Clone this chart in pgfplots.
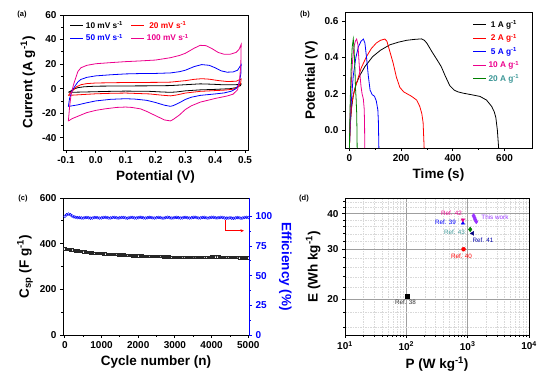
\documentclass[border=0pt]{standalone}
\usepackage{pgfplots}
\pgfplotsset{compat=1.18}
\usepackage{fontspec}
\setmainfont{Liberation Sans}
\usetikzlibrary{arrows.meta}
\definecolor{mygreen}{RGB}{0,128,0}
\definecolor{myteal}{RGB}{60,150,150}
\definecolor{mynavy}{RGB}{0,0,128}
\definecolor{purp}{RGB}{153,51,255}
\pgfplotsset{
  orig/.style={
    scale only axis,
    axis line style={line width=1pt},
    every tick/.style={black, line width=0.8pt},
    tick align=outside,
    major tick length=3pt,
    minor tick length=1.8pt,
    xtick pos=left, ytick pos=left,
    /pgf/number format/assume math mode=true,
    /pgf/number format/1000 sep={},
    scaled ticks=false,
    tick label style={font=\fontsize{10}{11}\selectfont\bfseries},
    label style={font=\fontsize{13.5}{14}\selectfont\bfseries},
    legend style={draw=none, fill=none, font=\fontsize{8.3}{9}\selectfont\bfseries},
    legend image code/.code={\draw[#1, line width=1pt] (0pt,0pt) -- (13pt,0pt);},
  }
}
\begin{document}
\begin{tikzpicture}[x=1pt,y=1pt]
\path[use as bounding box] (0,0) rectangle (554,376);
\node[font=\fontsize{7.5}{8}\selectfont\bfseries] at (22,361) {(a)};
\node[font=\fontsize{7.5}{8}\selectfont\bfseries] at (305,361) {(b)};
\node[font=\fontsize{7.5}{8}\selectfont\bfseries] at (23,177) {(c)};
\node[font=\fontsize{7.5}{8}\selectfont\bfseries] at (304,177) {(d)};
% ---------------- (a)
\begin{axis}[orig, at={(63pt,226pt)}, anchor=south west, width=185pt, height=135pt,
  xmin=-0.11, xmax=0.51, ymin=-50, ymax=60,
  xtick={-0.1,0,0.1,0.2,0.3,0.4,0.5}, ytick={-40,-20,0,20,40,60},
  minor x tick num=1, minor y tick num=1,
  xticklabel style={/pgf/number format/.cd, fixed, fixed zerofill, precision=1},
  xlabel={Potential (V)}, ylabel={Current (A g\textsuperscript{-1})},
  legend columns=2, legend style={at={(0.02,0.985)}, anchor=north west, row sep=0.5pt, /tikz/every even column/.append style={column sep=6pt}},
  every axis plot/.append style={line width=0.8pt}]
\addplot[black] coordinates {(-0.092,-3) (-0.085,-2) (-0.075,-0.5) (-0.06,0.8) (-0.04,1.5) (0,2) (0.1,2.2) (0.2,2.3) (0.25,2.5) (0.3,3.2) (0.35,3.9) (0.39,3.6) (0.43,3.1) (0.47,3.2) (0.487,3.8) (0.485,2.5) (0.47,0.8) (0.45,0) (0.4,-0.6) (0.35,-1) (0.3,-1.8) (0.27,-2.7) (0.25,-3) (0.22,-2.7) (0.18,-2.2) (0.1,-2) (0.05,-2.2) (0,-2.5) (-0.05,-2.8) (-0.092,-3)};
\addlegendentry{10 mV s\textsuperscript{-1}}
\addplot[red] coordinates {(-0.092,-5.5) (-0.085,-3.5) (-0.075,-1) (-0.065,1.5) (-0.05,3.2) (-0.03,4.1) (0,4.6) (0.1,5) (0.2,5.1) (0.25,5.3) (0.3,6.5) (0.33,7.6) (0.355,8.1) (0.38,7.7) (0.41,6.6) (0.44,5.8) (0.47,6) (0.487,7.9) (0.485,4) (0.475,1) (0.46,-0.5) (0.43,-1.2) (0.4,-1.6) (0.35,-2.2) (0.3,-3.6) (0.27,-5.2) (0.25,-5.9) (0.22,-5.3) (0.18,-4.3) (0.1,-3.6) (0.05,-3.8) (0,-4.2) (-0.05,-4.9) (-0.092,-5.5)};
\addlegendentry{\textcolor{red}{20 mV s\textsuperscript{-1}}}
\addplot[blue] coordinates {(-0.092,-14.5) (-0.088,-8) (-0.08,-2) (-0.07,2) (-0.06,5.5) (-0.05,7.5) (-0.03,9.2) (0,10.4) (0.05,11.3) (0.1,12) (0.15,12.3) (0.2,12.4) (0.25,12.8) (0.28,13.8) (0.3,15) (0.33,18) (0.355,19.6) (0.38,19) (0.4,17) (0.42,14.5) (0.44,13.4) (0.46,13.6) (0.475,15) (0.487,19.5) (0.486,12) (0.48,4) (0.47,0) (0.455,-2) (0.43,-3.5) (0.4,-4.3) (0.35,-5.5) (0.32,-7) (0.3,-8.8) (0.28,-11.5) (0.26,-13.8) (0.25,-14.4) (0.23,-13.5) (0.2,-11.3) (0.17,-9.5) (0.13,-8.5) (0.1,-8.2) (0.05,-8.7) (0,-10) (-0.03,-11.5) (-0.06,-13.2) (-0.092,-14.5)};
\addlegendentry{\textcolor{blue}{50 mV s\textsuperscript{-1}}}
\addplot[magenta] coordinates {(-0.092,-26.4) (-0.088,-15) (-0.083,-5) (-0.075,3) (-0.067,9) (-0.06,14) (-0.05,17) (-0.03,19) (0,20.3) (0.05,21.2) (0.1,22) (0.15,22.6) (0.2,23.3) (0.25,25.2) (0.28,27) (0.3,28.8) (0.33,33) (0.35,35.3) (0.37,35) (0.39,32.5) (0.41,29.5) (0.43,28) (0.45,28) (0.47,29.5) (0.48,32) (0.487,36) (0.486,20) (0.482,8) (0.475,-1) (0.46,-4.5) (0.44,-6) (0.4,-8) (0.35,-11) (0.32,-14) (0.3,-17) (0.28,-21.5) (0.26,-25) (0.25,-26.3) (0.23,-25.5) (0.2,-22) (0.17,-18.5) (0.15,-16.5) (0.12,-15.3) (0.1,-15) (0.07,-15.3) (0.03,-16.5) (0,-17.7) (-0.03,-19.5) (-0.06,-22.5) (-0.08,-24.5) (-0.092,-26.4)};
\addlegendentry{\textcolor{magenta}{100 mV s\textsuperscript{-1}}}
\end{axis}
% ---------------- (b)
\begin{axis}[orig, at={(345pt,228pt)}, anchor=south west, width=187pt, height=135pt,
  xmin=-17, xmax=706, ymin=-0.1, ymax=0.646,
  xtick={0,200,400,600}, ytick={0,0.2,0.4,0.6},
  minor x tick num=1, minor y tick num=1,
  yticklabel style={/pgf/number format/.cd, fixed, fixed zerofill, precision=1},
  xlabel={Time (s)}, ylabel={Potential (V)},
  legend style={at={(0.665,0.975)}, anchor=north west, row sep=1.2pt},
  every axis plot/.append style={line width=0.8pt}]
\addplot[black] coordinates {(0,-0.1) (3,0.02) (8,0.12) (15,0.19) (25,0.25) (40,0.3) (60,0.35) (90,0.405) (120,0.44) (156,0.47) (190,0.485) (221,0.495) (250,0.5) (279,0.503) (290,0.495) (300,0.478) (320,0.43) (340,0.385) (355,0.35) (370,0.3) (388,0.245) (405,0.22) (420,0.21) (440,0.203) (470,0.195) (505,0.185) (530,0.165) (550,0.13) (560,0.1) (566,0.07) (572,0) (577,-0.1)};
\addlegendentry{1 A g\textsuperscript{-1}}
\addplot[red] coordinates {(0,-0.1) (4,0.05) (10,0.15) (18,0.21) (27,0.255) (45,0.34) (66,0.405) (85,0.45) (104,0.48) (120,0.495) (137,0.502) (145,0.49) (155,0.44) (169,0.37) (182,0.29) (195,0.235) (210,0.21) (240,0.186) (260,0.165) (272,0.13) (280,0.09) (285,0.04) (289,-0.1)};
\addlegendentry{\textcolor{red}{2 A g\textsuperscript{-1}}}
\addplot[blue] coordinates {(0,-0.1) (3,0.05) (8,0.17) (15,0.3) (25,0.4) (35,0.46) (45,0.49) (54,0.502) (60,0.48) (67,0.39) (73,0.3) (80,0.22) (88,0.195) (97,0.186) (104,0.16) (110,0.11) (112,0.05) (114,-0.1)};
\addlegendentry{\textcolor{blue}{5 A g\textsuperscript{-1}}}
\addplot[magenta] coordinates {(0,-0.1) (3,0.1) (7,0.25) (12,0.38) (18,0.46) (23,0.49) (28,0.502) (33,0.47) (38,0.36) (41,0.3) (45,0.24) (49,0.2) (54,0.17) (57,0.12) (58.5,0.05) (59.5,-0.1)};
\addlegendentry{\textcolor{magenta}{10 A g\textsuperscript{-1}}}
\addplot[mygreen] coordinates {(0,-0.1) (3,0.15) (7,0.35) (11,0.46) (15,0.502) (18,0.45) (21,0.35) (24,0.22) (26,0.17) (28,0.1) (29,0.02) (30,-0.1)};
\addlegendentry{\textcolor{myteal}{20 A g\textsuperscript{-1}}}
\end{axis}
% ---------------- (c) left
\begin{axis}[orig, at={(63pt,41pt)}, anchor=south west, width=186pt, height=137pt,
  xmin=-50, xmax=5020, ymin=0, ymax=600,
  xtick={0,1000,2000,3000,4000,5000}, ytick={0,200,400,600},
  minor x tick num=1, minor y tick num=1,
  axis y line*=left,
  xlabel={Cycle number (n)}, ylabel={C\textsubscript{sp} (F g\textsuperscript{-1})}]
\addplot[black!85, line width=0.3pt, mark=square, mark size=1.2pt, mark options={line width=0.4pt}] coordinates {
(0,378) (50,377) (100,376) (150,374) (200,373) (250,371) (300,370) (350,369) (400,367) (450,366) (500,365)
(550,364) (600,363) (650,362) (700,361) (750,360) (800,359) (850,359) (900,358) (950,357) (1000,357)
(1050,356) (1100,356) (1150,355) (1200,355) (1250,354) (1300,354) (1350,353) (1400,353) (1450,352) (1500,352)
(1550,351) (1600,351) (1650,350) (1700,350) (1750,349) (1800,349) (1850,348) (1900,348) (1950,348) (2000,347)
(2050,347) (2100,347) (2150,346) (2200,346) (2250,346) (2300,345) (2350,345) (2400,345) (2450,345) (2500,344)
(2550,344) (2600,344) (2650,344) (2700,343) (2750,343) (2800,343) (2850,343) (2900,342) (2950,342) (3000,342)
(3050,342) (3100,341) (3150,341) (3200,341) (3250,341) (3300,340) (3350,340) (3400,340) (3450,340) (3500,340)
(3550,340) (3600,340) (3650,340) (3700,341) (3750,341) (3800,341) (3850,342) (3900,342) (3950,342) (4000,343)
(4050,343) (4100,343) (4150,343) (4200,343) (4250,342) (4300,342) (4350,341) (4400,341) (4450,341) (4500,340)
(4550,340) (4600,340) (4650,340) (4700,340) (4750,339) (4800,339) (4850,339) (4900,339) (4950,339) (5000,339)};
\end{axis}
% ---------------- (c) right
\begin{axis}[orig, at={(63pt,41pt)}, anchor=south west, width=186pt, height=137pt,
  xmin=-50, xmax=5020, ymin=0, ymax=115.5,
  axis x line=none, axis y line*=right, ytick pos=right,
  ytick={0,25,50,75,100}, minor y tick num=1,
  y axis line style={blue, line width=1pt},
  every y tick/.style={blue, line width=0.8pt},
  yticklabel style={blue},
  ylabel={Efficiency (\%)}, ylabel style={blue, rotate=180}]
\addplot[blue, line width=0.3pt, mark=o, mark size=1.4pt, mark options={line width=0.4pt}] coordinates {
(0,100.0) (50,101.4) (100,102.0) (150,101.4) (200,100.3) (250,99.6) (300,99.2) (350,98.9) (400,99.0) (450,98.7)
(500,98.6) (550,98.9) (600,99.1) (650,98.8) (700,98.5) (750,98.6) (800,99.0) (850,99.1) (900,98.8) (950,98.6)
(1000,98.7) (1050,99.1) (1100,99.2) (1150,98.9) (1200,98.6) (1250,98.7) (1300,99.1) (1350,99.2) (1400,98.9) (1450,98.6)
(1500,98.8) (1550,99.1) (1600,99.1) (1650,98.7) (1700,98.5) (1750,98.8) (1800,99.2) (1850,99.1) (1900,98.7) (1950,98.6)
(2000,98.9) (2050,99.3) (2100,99.1) (2150,98.7) (2200,98.6) (2250,98.9) (2300,99.2) (2350,99.0) (2400,98.7) (2450,98.6)
(2500,98.9) (2550,99.2) (2600,99.0) (2650,98.6) (2700,98.6) (2750,99.0) (2800,99.3) (2850,99.0) (2900,98.6) (2950,98.7)
(3000,99.0) (3050,99.2) (3100,98.9) (3150,98.6) (3200,98.7) (3250,99.1) (3300,99.2) (3350,98.8) (3400,98.6) (3450,98.8)
(3500,99.2) (3550,99.3) (3600,98.9) (3650,98.6) (3700,98.7) (3750,99.1) (3800,99.2) (3850,98.8) (3900,98.6) (3950,98.8)
(4000,99.2) (4050,99.2) (4100,98.9) (4150,98.7) (4200,98.9) (4250,99.3) (4300,99.1) (4350,98.7) (4400,98.5) (4450,98.6)
(4500,98.8) (4550,98.5) (4600,98.4) (4650,98.7) (4700,99.0) (4750,98.8) (4800,98.5) (4850,98.7) (4900,99.1) (4950,99.2) (5000,99.0)};
\draw[red, line width=0.6pt, -{Stealth[length=3.5pt,width=3pt]}] (axis cs:4364,97) |- (axis cs:4883,87.9);
\end{axis}
% ---------------- (d)
\begin{axis}[orig, at={(345pt,41pt)}, anchor=south west, width=184pt, height=136pt,
  xmode=log, ymode=log, xmin=10, xmax=10000, ymin=15, ymax=45,
  xtick={10,100,1000,10000},
  xticklabels={10\textsuperscript{1},10\textsuperscript{2},10\textsuperscript{3},10\textsuperscript{4}},
  minor xtick={20,30,40,50,60,70,80,90,200,300,400,500,600,700,800,900,2000,3000,4000,5000,6000,7000,8000,9000},
  ytick={20,30,40}, yticklabels={20,30,40},
  minor ytick={16,18,22,24,26,28,32,34,36,38,42,44},
  grid=both,
  major grid style={gray!75, line width=0.5pt},
  minor grid style={gray!30, dash pattern=on 1.5pt off 1pt, line width=0.3pt},
  xlabel={P (W kg\textsuperscript{-1})}, ylabel={E (Wh kg\textsuperscript{-1})}]
\addplot[only marks, mark=square*, mark size=1.8pt, black] coordinates {(104,20.5)};
\addplot[only marks, mark=*, mark size=2pt, red] coordinates {(857,30)};
\addplot[only marks, mark=diamond*, mark size=2.4pt, mygreen] coordinates {(1099,35.2)};
\addplot[only marks, mark=triangle*, mark size=2.2pt, mynavy, mark options={rotate=90}] coordinates {(1200,34.1)};
\addplot[only marks, mark=triangle*, mark size=2pt, blue] coordinates {(836,37.0)};
\addplot[only marks, mark=triangle*, mark size=2pt, magenta, mark options={rotate=180}] coordinates {(836,38.0)};
\addplot[only marks, mark=diamond*, mark size=2.2pt, purp] coordinates {(1250,39.3) (1290,38.7) (1330,38.1) (1380,37.5)};
\begin{scope}[font=\fontsize{6.3}{7}\selectfont]
\node[magenta] at (rel axis cs:0.579,0.897) {Ref. 42};
\node[blue] at (rel axis cs:0.546,0.831) {Ref. 39};
\node[myteal] at (rel axis cs:0.595,0.757) {Ref. 43};
\node[mynavy!70!blue] at (rel axis cs:0.75,0.699) {Ref. 41};
\node[red] at (rel axis cs:0.633,0.581) {Ref. 40};
\node[black!80] at (rel axis cs:0.329,0.243) {Ref. 38};
\node[purp] at (rel axis cs:0.815,0.868) {This work};
\end{scope}
\end{axis}
\end{tikzpicture}
\end{document}
